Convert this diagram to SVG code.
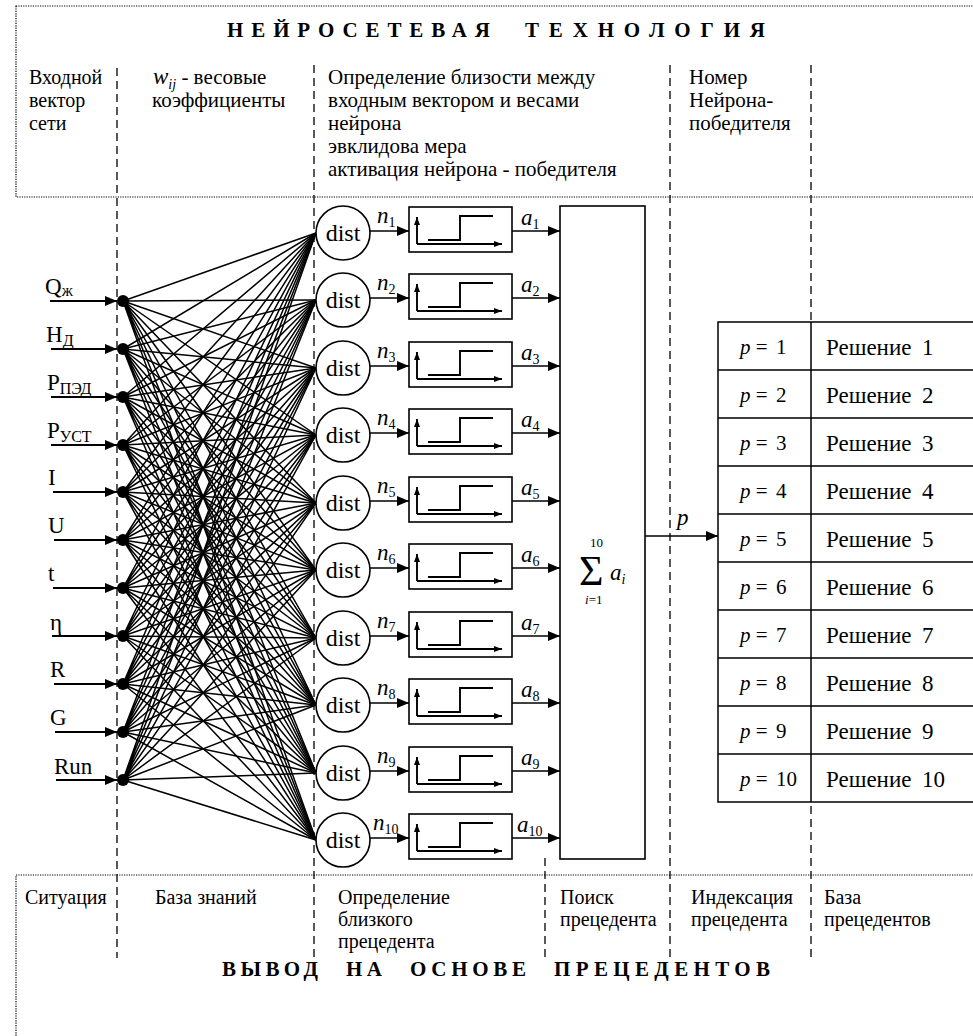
<svg xmlns="http://www.w3.org/2000/svg" width="973" height="1036" viewBox="0 0 973 1036" font-family="'Liberation Serif', 'Times New Roman', Tinos, 'DejaVu Serif', serif">
<defs>
<style>
text{font-family:'Liberation Serif','Times New Roman',Tinos,'DejaVu Serif',serif}
.t{font-size:20px;fill:#000}
.t2{font-size:21px;fill:#000}
.it{font-style:italic;fill:#000}
.up{font-style:normal}
.ttl{font-weight:bold;font-size:21px;fill:#000}
.lbl{font-size:23px;fill:#000}
.dot{fill:none;stroke:#000;stroke-width:1.2;stroke-dasharray:1.2,1.2}
.dash{stroke:#000;stroke-width:1.3;stroke-dasharray:8,5;fill:none}
.w{stroke:#000;stroke-width:1.5;fill:none}
.ln{stroke:#000;stroke-width:1.6;fill:none}
.sl{stroke:#000;stroke-width:1.9;fill:none}
.in{stroke:#000;stroke-width:2;fill:none}
.box{fill:#fff;stroke:#000;stroke-width:1.6}
.cell{fill:#fff;stroke:#000;stroke-width:1.5}
.dist{font-size:24px;fill:#000}
.cellt{font-size:21px;fill:#000}
.sol{font-size:23px;fill:#000}
</style>
<marker id="ah" markerUnits="userSpaceOnUse" markerWidth="13" markerHeight="10" refX="12" refY="5" orient="auto"><path d="M0,0L12,5L0,10z" fill="#000"/></marker>
<marker id="sa" markerUnits="userSpaceOnUse" markerWidth="9" markerHeight="7" refX="8" refY="3" orient="auto"><path d="M0,0L8,3L0,6z" fill="#000"/></marker>
<g id="stepfn">
<rect class="box" x="0" y="0" width="103" height="45"/>
<path class="sl" d="M8,37V10" marker-end="url(#sa)"/>
<path class="sl" d="M8,37H93" marker-end="url(#sa)"/>
<path class="sl" d="M19,33H51V9H84"/>
</g>
</defs>
<rect width="973" height="1036" fill="#fff"/>

<g id="header-top">
<rect class="dot" x="16" y="6" width="970" height="191"/>
<text class="ttl" x="227" y="37" textLength="263" lengthAdjust="spacing">НЕЙРОСЕТЕВАЯ</text>
<text class="ttl" x="525" y="37" textLength="240" lengthAdjust="spacing">ТЕХНОЛОГИЯ</text>
<text class="t" x="29" y="84">Входной</text>
<text class="t" x="29" y="107">вектор</text>
<text class="t" x="29" y="130">сети</text>
<text class="t2" x="153" y="84"><tspan class="it" style="font-size:23px">w</tspan><tspan class="it" style="font-size:14px" dy="5">ij</tspan><tspan dy="-5"> - весовые</tspan></text>
<text class="t2" x="152" y="107">коэффициенты</text>
<text class="t2" x="328" y="84">Определение близости между</text>
<text class="t2" x="328" y="107">входным вектором и весами</text>
<text class="t2" x="328" y="130">нейрона</text>
<text class="t2" x="328" y="153">эвклидова мера</text>
<text class="t2" x="328" y="176">активация нейрона - победителя</text>
<text class="t2" x="689" y="84">Номер</text>
<text class="t2" x="689" y="107">Нейрона-</text>
<text class="t2" x="689" y="130">победителя</text>
</g>

<g id="header-bottom">
<rect class="dot" x="16" y="875" width="970" height="200"/>
<text class="t" x="25" y="904">Ситуация</text>
<text class="t" x="155" y="904">База знаний</text>
<text class="t" x="338" y="904">Определение</text>
<text class="t" x="338" y="926">близкого</text>
<text class="t" x="338" y="948">прецедента</text>
<text class="t" x="560" y="904">Поиск</text>
<text class="t" x="560" y="926">прецедента</text>
<text class="t" x="691" y="904">Индексация</text>
<text class="t" x="691" y="926">прецедента</text>
<text class="t" x="824" y="904">База</text>
<text class="t" x="824" y="926">прецедентов</text>
<text class="ttl" x="222" y="976" textLength="96" lengthAdjust="spacing">ВЫВОД</text>
<text class="ttl" x="346" y="976" textLength="36" lengthAdjust="spacing">НА</text>
<text class="ttl" x="410" y="976" textLength="116" lengthAdjust="spacing">ОСНОВЕ</text>
<text class="ttl" x="554" y="976" textLength="216" lengthAdjust="spacing">ПРЕЦЕДЕНТОВ</text>
</g>

<g id="dividers">
<path class="dash" d="M117,68V958M314,65V958M670,65V958M811,65V958M545,858V958"/>
</g>

<g id="connectors">
<path class="w" d="M123 301L316 233M123 301L316 300M123 301L316 368M123 301L316 435M123 301L316 503M123 301L316 570M123 301L316 638M123 301L316 705M123 301L316 773M123 301L316 840"/>
<path class="w" d="M123 349L316 233M123 349L316 300M123 349L316 368M123 349L316 435M123 349L316 503M123 349L316 570M123 349L316 638M123 349L316 705M123 349L316 773M123 349L316 840"/>
<path class="w" d="M123 397L316 233M123 397L316 300M123 397L316 368M123 397L316 435M123 397L316 503M123 397L316 570M123 397L316 638M123 397L316 705M123 397L316 773M123 397L316 840"/>
<path class="w" d="M123 445L316 233M123 445L316 300M123 445L316 368M123 445L316 435M123 445L316 503M123 445L316 570M123 445L316 638M123 445L316 705M123 445L316 773M123 445L316 840"/>
<path class="w" d="M123 492L316 233M123 492L316 300M123 492L316 368M123 492L316 435M123 492L316 503M123 492L316 570M123 492L316 638M123 492L316 705M123 492L316 773M123 492L316 840"/>
<path class="w" d="M123 540L316 233M123 540L316 300M123 540L316 368M123 540L316 435M123 540L316 503M123 540L316 570M123 540L316 638M123 540L316 705M123 540L316 773M123 540L316 840"/>
<path class="w" d="M123 588L316 233M123 588L316 300M123 588L316 368M123 588L316 435M123 588L316 503M123 588L316 570M123 588L316 638M123 588L316 705M123 588L316 773M123 588L316 840"/>
<path class="w" d="M123 636L316 233M123 636L316 300M123 636L316 368M123 636L316 435M123 636L316 503M123 636L316 570M123 636L316 638M123 636L316 705M123 636L316 773M123 636L316 840"/>
<path class="w" d="M123 684L316 233M123 684L316 300M123 684L316 368M123 684L316 435M123 684L316 503M123 684L316 570M123 684L316 638M123 684L316 705M123 684L316 773M123 684L316 840"/>
<path class="w" d="M123 732L316 233M123 732L316 300M123 732L316 368M123 732L316 435M123 732L316 503M123 732L316 570M123 732L316 638M123 732L316 705M123 732L316 773M123 732L316 840"/>
<path class="w" d="M123 780L316 233M123 780L316 300M123 780L316 368M123 780L316 435M123 780L316 503M123 780L316 570M123 780L316 638M123 780L316 705M123 780L316 773M123 780L316 840"/>
<g marker-end="url(#ah)">
<path class="in" d="M50,301H117"/>
<path class="in" d="M51,349H117"/>
<path class="in" d="M51,397H117"/>
<path class="in" d="M51,445H117"/>
<path class="in" d="M53,492H117"/>
<path class="in" d="M54,540H117"/>
<path class="in" d="M53,588H117"/>
<path class="in" d="M52,636H117"/>
<path class="in" d="M54,684H117"/>
<path class="in" d="M55,732H117"/>
<path class="in" d="M56,780H117"/>
<path class="ln" d="M370,231H409"/>
<path class="ln" d="M370,298H409"/>
<path class="ln" d="M370,366H409"/>
<path class="ln" d="M370,433H409"/>
<path class="ln" d="M370,501H409"/>
<path class="ln" d="M370,568H409"/>
<path class="ln" d="M370,636H409"/>
<path class="ln" d="M370,703H409"/>
<path class="ln" d="M370,771H409"/>
<path class="ln" d="M370,838H409"/>
<path class="ln" d="M512,231H560"/>
<path class="ln" d="M512,298H560"/>
<path class="ln" d="M512,366H560"/>
<path class="ln" d="M512,433H560"/>
<path class="ln" d="M512,501H560"/>
<path class="ln" d="M512,568H560"/>
<path class="ln" d="M512,636H560"/>
<path class="ln" d="M512,703H560"/>
<path class="ln" d="M512,771H560"/>
<path class="ln" d="M512,838H560"/>
<path class="ln" d="M645,536H718"/>
</g>
<g class="it" style="font-size:23px">
<text x="377" y="223">n<tspan class="up" style="font-size:14px" dy="4">1</tspan></text>
<text x="377" y="290">n<tspan class="up" style="font-size:14px" dy="4">2</tspan></text>
<text x="377" y="358">n<tspan class="up" style="font-size:14px" dy="4">3</tspan></text>
<text x="377" y="425">n<tspan class="up" style="font-size:14px" dy="4">4</tspan></text>
<text x="377" y="493">n<tspan class="up" style="font-size:14px" dy="4">5</tspan></text>
<text x="377" y="560">n<tspan class="up" style="font-size:14px" dy="4">6</tspan></text>
<text x="377" y="628">n<tspan class="up" style="font-size:14px" dy="4">7</tspan></text>
<text x="377" y="695">n<tspan class="up" style="font-size:14px" dy="4">8</tspan></text>
<text x="377" y="763">n<tspan class="up" style="font-size:14px" dy="4">9</tspan></text>
<text x="373" y="830">n<tspan class="up" style="font-size:14px" dy="4">10</tspan></text>
<text x="521" y="225">a<tspan class="up" style="font-size:14px" dy="4">1</tspan></text>
<text x="521" y="292">a<tspan class="up" style="font-size:14px" dy="4">2</tspan></text>
<text x="521" y="360">a<tspan class="up" style="font-size:14px" dy="4">3</tspan></text>
<text x="521" y="427">a<tspan class="up" style="font-size:14px" dy="4">4</tspan></text>
<text x="521" y="495">a<tspan class="up" style="font-size:14px" dy="4">5</tspan></text>
<text x="521" y="562">a<tspan class="up" style="font-size:14px" dy="4">6</tspan></text>
<text x="521" y="630">a<tspan class="up" style="font-size:14px" dy="4">7</tspan></text>
<text x="521" y="697">a<tspan class="up" style="font-size:14px" dy="4">8</tspan></text>
<text x="521" y="765">a<tspan class="up" style="font-size:14px" dy="4">9</tspan></text>
<text x="517" y="832">a<tspan class="up" style="font-size:14px" dy="4">10</tspan></text>
<text x="677" y="525">p</text>
</g>
</g>

<g id="inputs">
<g fill="#000">
<circle cx="123" cy="301" r="6"/><circle cx="123" cy="349" r="6"/><circle cx="123" cy="397" r="6"/>
<circle cx="123" cy="445" r="6"/><circle cx="123" cy="492" r="6"/><circle cx="123" cy="540" r="6"/>
<circle cx="123" cy="588" r="6"/><circle cx="123" cy="636" r="6"/><circle cx="123" cy="684" r="6"/>
<circle cx="123" cy="732" r="6"/><circle cx="123" cy="780" r="6"/>
</g>
<text class="lbl" x="45" y="294">Q<tspan style="font-size:16px" dy="2">ж</tspan></text>
<text class="lbl" x="46" y="342">H<tspan style="font-size:16px" dy="4">Д</tspan></text>
<text class="lbl" x="47" y="390">P<tspan style="font-size:16px" dy="4">ПЭД</tspan></text>
<text class="lbl" x="47" y="438">P<tspan style="font-size:16px" dy="4">УСТ</tspan></text>
<text class="lbl" x="48" y="485">I</text>
<text class="lbl" x="48" y="533">U</text>
<text class="lbl" x="48" y="581">t</text>
<text class="lbl" x="50" y="630">η</text>
<text class="lbl" x="50" y="677">R</text>
<text class="lbl" x="50" y="725">G</text>
<text class="lbl" x="54" y="774">Run</text>
</g>

<g id="neurons">
<g id="n1"><circle class="box" cx="343" cy="233" r="27"/><text class="dist" x="343" y="241" text-anchor="middle">dist</text><use href="#stepfn" x="409" y="207"/></g>
<g id="n2"><circle class="box" cx="343" cy="300" r="27"/><text class="dist" x="343" y="308" text-anchor="middle">dist</text><use href="#stepfn" x="409" y="274"/></g>
<g id="n3"><circle class="box" cx="343" cy="368" r="27"/><text class="dist" x="343" y="376" text-anchor="middle">dist</text><use href="#stepfn" x="409" y="342"/></g>
<g id="n4"><circle class="box" cx="343" cy="435" r="27"/><text class="dist" x="343" y="443" text-anchor="middle">dist</text><use href="#stepfn" x="409" y="409"/></g>
<g id="n5"><circle class="box" cx="343" cy="503" r="27"/><text class="dist" x="343" y="511" text-anchor="middle">dist</text><use href="#stepfn" x="409" y="477"/></g>
<g id="n6"><circle class="box" cx="343" cy="570" r="27"/><text class="dist" x="343" y="578" text-anchor="middle">dist</text><use href="#stepfn" x="409" y="544"/></g>
<g id="n7"><circle class="box" cx="343" cy="638" r="27"/><text class="dist" x="343" y="646" text-anchor="middle">dist</text><use href="#stepfn" x="409" y="612"/></g>
<g id="n8"><circle class="box" cx="343" cy="705" r="27"/><text class="dist" x="343" y="713" text-anchor="middle">dist</text><use href="#stepfn" x="409" y="679"/></g>
<g id="n9"><circle class="box" cx="343" cy="773" r="27"/><text class="dist" x="343" y="781" text-anchor="middle">dist</text><use href="#stepfn" x="409" y="747"/></g>
<g id="n10"><circle class="box" cx="343" cy="840" r="27"/><text class="dist" x="343" y="848" text-anchor="middle">dist</text><use href="#stepfn" x="409" y="814"/></g>
</g>

<g id="sum">
<rect class="box" x="560" y="206" width="85" height="653"/>
<text x="579" y="585" style="font-size:42px">Σ</text>
<text x="590" y="547" style="font-size:13px">10</text>
<text x="585" y="604" style="font-size:13px"><tspan class="it">i</tspan>=1</text>
<text class="it" x="610" y="580" style="font-size:23px">a<tspan style="font-size:14px" dy="4">i</tspan></text>
</g>

<g id="table">
<rect class="cell" x="718" y="322" width="260" height="480"/>
<path class="cell" d="M811,322V802M718,370H978M718,418H978M718,466H978M718,514H978M718,562H978M718,610H978M718,658H978M718,706H978M718,754H978"/>
<g class="cellt">
<text x="740" y="354"><tspan class="it">p</tspan> = <tspan x="776">1</tspan></text>
<text x="740" y="402"><tspan class="it">p</tspan> = <tspan x="776">2</tspan></text>
<text x="740" y="450"><tspan class="it">p</tspan> = <tspan x="776">3</tspan></text>
<text x="740" y="498"><tspan class="it">p</tspan> = <tspan x="776">4</tspan></text>
<text x="740" y="546"><tspan class="it">p</tspan> = <tspan x="776">5</tspan></text>
<text x="740" y="594"><tspan class="it">p</tspan> = <tspan x="776">6</tspan></text>
<text x="740" y="642"><tspan class="it">p</tspan> = <tspan x="776">7</tspan></text>
<text x="740" y="690"><tspan class="it">p</tspan> = <tspan x="776">8</tspan></text>
<text x="740" y="738"><tspan class="it">p</tspan> = <tspan x="776">9</tspan></text>
<text x="740" y="786"><tspan class="it">p</tspan> = <tspan x="776">10</tspan></text>
</g>
<g class="sol">
<text x="826" y="355">Решение <tspan x="922">1</tspan></text>
<text x="826" y="403">Решение <tspan x="922">2</tspan></text>
<text x="826" y="451">Решение <tspan x="922">3</tspan></text>
<text x="826" y="499">Решение <tspan x="922">4</tspan></text>
<text x="826" y="547">Решение <tspan x="922">5</tspan></text>
<text x="826" y="595">Решение <tspan x="922">6</tspan></text>
<text x="826" y="643">Решение <tspan x="922">7</tspan></text>
<text x="826" y="691">Решение <tspan x="922">8</tspan></text>
<text x="826" y="739">Решение <tspan x="922">9</tspan></text>
<text x="826" y="787">Решение <tspan x="922">10</tspan></text>
</g>
</g>
</svg>
